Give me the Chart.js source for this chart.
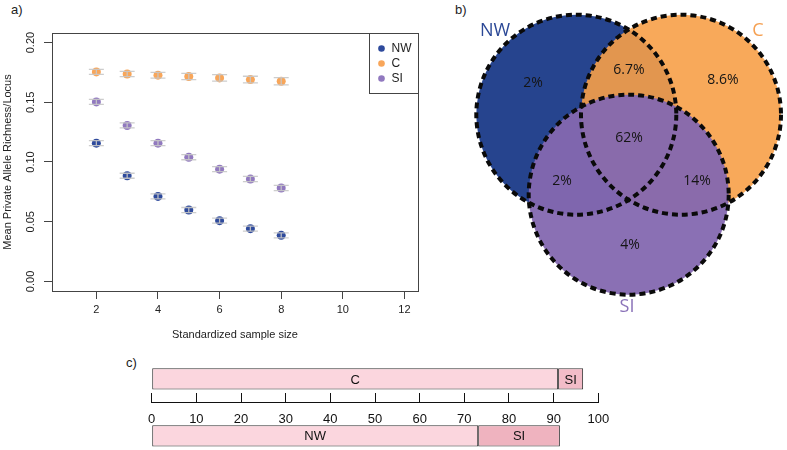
<!DOCTYPE html>
<html>
<head>
<meta charset="utf-8">
<script src="https://cdn.jsdelivr.net/npm/chart.js@4.4.1/dist/chart.umd.min.js"></script>
<style>
    body { margin: 0; width: 787px; height: 450px; background: #fff; position: relative; overflow: hidden; font-family: 'Liberation Sans', Arial, sans-serif; }
    .panel { position: absolute; }
    .tag { position: absolute; font-size: 13px; color: #222; }
</style>
</head>
<body>
<div class="tag" style="left:11px;top:2px">a)</div>
<div class="tag" style="left:455px;top:2px">b)</div>
<div class="tag" style="left:126px;top:355px">c)</div>
<div class="panel" style="left:0;top:0"><canvas id="richness" width="430" height="345"></canvas></div>
<div class="panel" style="left:440px;top:0"><canvas id="venn" width="347" height="330"></canvas></div>
<div class="panel" style="left:100px;top:340px"><canvas id="shares" width="550" height="110"></canvas></div>

<script>
// a) private allele richness by standardized sample size
const sampleSizes = [2, 3, 4, 5, 6, 7, 8];
const richNW = [0.1158, 0.0885, 0.0712, 0.0598, 0.0509, 0.0442, 0.0386];
const richC = [0.1754, 0.1737, 0.1727, 0.1716, 0.1704, 0.1690, 0.1676];
const richSI = [0.1503, 0.1306, 0.1158, 0.1040, 0.0940, 0.0857, 0.0782];
const errNW = [0.0021, 0.0021, 0.0021, 0.0021, 0.0021, 0.0021, 0.0021];
const errC = [0.0021, 0.0022, 0.0024, 0.0026, 0.0027, 0.0028, 0.0030];
const errSI = [0.0021, 0.0021, 0.0021, 0.0021, 0.0021, 0.0022, 0.0022];
const xTicks = [2, 4, 6, 8, 10, 12];
const yTicks = [0, 0.05, 0.10, 0.15, 0.20];

// b) shared private alleles
const vennSets = ['NW', 'C', 'SI'];
const vennShares = ['2%', '6.7%', '8.6%', '62%', '2%', '14%', '4%'];

// c) composition bars
const shareRows = ['C / SI', '', 'NW / SI'];
const firstPart = [91.0, null, 73.1];
const secondPart = [5.6, null, 18.3];
const firstNames = ['C', '', 'NW'];
const secondNames = ['SI', '', 'SI'];
const shareTicks = [0, 10, 20, 30, 40, 50, 60, 70, 80, 90, 100];

const blue = '#2e4a9c', orange = '#f8a65a', purple = '#9179bf';

function toPoints(vals) {
    return sampleSizes.map((x, i) => ({ x: x, y: vals[i] }));
}

// caixa + barras de erro + legenda do painel a
const richnessExtras = {
    id: 'richnessExtras',
    afterDatasetsDraw(chart) {
        const ctx = chart.ctx;
        const xs = chart.scales.x, ys = chart.scales.y;
        ctx.save();
        ctx.strokeStyle = 'rgba(200,200,200,0.9)';
        ctx.lineWidth = 1.3;
        chart.data.datasets.forEach(ds => {
            ds.data.forEach((p, i) => {
                const px = xs.getPixelForValue(p.x);
                const lo = ys.getPixelForValue(p.y - ds.errors[i]);
                const hi = ys.getPixelForValue(p.y + ds.errors[i]);
                ctx.beginPath();
                ctx.moveTo(px, lo); ctx.lineTo(px, hi);
                ctx.moveTo(px - 7.5, lo); ctx.lineTo(px + 7.5, lo);
                ctx.moveTo(px - 7.5, hi); ctx.lineTo(px + 7.5, hi);
                ctx.stroke();
            });
        });
        ctx.restore();
    },
    afterDraw(chart) {
        const ctx = chart.ctx;
        const a = chart.chartArea;
        ctx.save();
        ctx.strokeStyle = '#444';
        ctx.lineWidth = 1;
        ctx.strokeRect(Math.round(a.left) + 0.5, Math.round(a.top) + 0.5, Math.round(a.right - a.left), Math.round(a.bottom - a.top));
        // legend
        const w = 49, h = 60;
        const lx = Math.round(a.right - w) + 0.5, ly = Math.round(a.top) + 0.5;
        ctx.strokeRect(lx, ly, w, h);
        ctx.font = '12px "Liberation Sans", Arial, sans-serif';
        ctx.textBaseline = 'middle';
        chart.data.datasets.forEach((ds, i) => {
            const y = ly + 15 + i * 15;
            ctx.fillStyle = ds.backgroundColor;
            ctx.beginPath();
            ctx.arc(lx + 12, y, 3.3, 0, Math.PI * 2);
            ctx.fill();
            ctx.fillStyle = '#222';
            ctx.fillText(ds.label, lx + 22, y + 0.5);
        });
        ctx.restore();
    }
};

new Chart(document.getElementById('richness'), {
    type: 'scatter',
    data: {
        datasets: [
            { label: 'NW', data: toPoints(richNW), errors: errNW, backgroundColor: blue },
            { label: 'C', data: toPoints(richC), errors: errC, backgroundColor: orange },
            { label: 'SI', data: toPoints(richSI), errors: errSI, backgroundColor: purple }
        ]
    },
    options: {
        responsive: false,
        animation: false,
        events: [],
        layout: { padding: { left: 0, right: 12, top: 33, bottom: 0 } },
        elements: { point: { radius: 4.5, borderWidth: 0 } },
        plugins: { legend: { display: false }, tooltip: { enabled: false } },
        scales: {
            x: {
                type: 'linear', min: 0.56, max: 12.44,
                afterBuildTicks: s => { s.ticks = xTicks.map(v => ({ value: v })); },
                afterFit: s => { s.height = 54; },
                grid: { drawOnChartArea: false, tickLength: 8, color: '#444' },
                border: { display: false },
                ticks: { color: '#222', font: { size: 11, family: '"Liberation Sans", Arial' }, padding: 4, maxRotation: 0 },
                title: { display: true, text: 'Standardized sample size', color: '#222', font: { size: 11, family: '"Liberation Sans", Arial' }, padding: { top: 3, bottom: 3 } }
            },
            y: {
                type: 'linear', min: -0.008, max: 0.208,
                afterBuildTicks: s => { s.ticks = yTicks.map(v => ({ value: v })); },
                afterFit: s => { s.width = 52; },
                grid: { drawOnChartArea: false, tickLength: 8, color: '#444' },
                border: { display: false },
                ticks: {
                    color: '#222', font: { size: 11, family: '"Liberation Sans", Arial' },
                    minRotation: 90, maxRotation: 90, crossAlign: 'center', padding: 2,
                    callback: v => Number(v).toFixed(2)
                },
                title: { display: true, text: 'Mean Private Allele Richness/Locus', color: '#222', font: { size: 11, family: '"Liberation Sans", Arial' }, padding: { top: 1, bottom: 1 } }
            }
        }
    },
    plugins: [richnessExtras]
});

// b) Venn: three bubbles, outlines drawn dashed on top of fills
const vennCenters = [{ x: -0.372, y: 0.503 }, { x: 0.675, y: 0.503 }, { x: 0.152, y: -0.297 }];
const vennNamePos = [{ x: -1.185, y: 1.34 }, { x: 1.445, y: 1.34 }, { x: 0.135, y: -1.42 }];
const vennSharePos = [
    { x: -0.805, y: 0.82 }, { x: 0.155, y: 0.95 }, { x: 1.095, y: 0.85 }, { x: 0.155, y: 0.27 },
    { x: -0.515, y: -0.16 }, { x: 0.835, y: -0.16 }, { x: 0.165, y: -0.80 }
];
const vennTextColors = ['#2b4896', '#f5a052', '#8a72b8'];

const vennExtras = {
    id: 'vennExtras',
    beforeDatasetDraw(chart, args) {
        if (args.index === 0) {
            chart.ctx.save();
            chart.ctx.setLineDash([6, 4]);
        }
    },
    afterDatasetDraw(chart, args) {
        if (args.index === 0) chart.ctx.restore();
    },
    afterDatasetsDraw(chart) {
        const ctx = chart.ctx;
        const xs = chart.scales.x, ys = chart.scales.y;
        ctx.save();
        ctx.textAlign = 'center';
        ctx.textBaseline = 'middle';
        ctx.font = '18px "Open Sans", sans-serif';
        vennSets.forEach((name, i) => {
            ctx.fillStyle = vennTextColors[i];
            ctx.fillText(name, xs.getPixelForValue(vennNamePos[i].x), ys.getPixelForValue(vennNamePos[i].y));
        });
        ctx.font = '14px "Open Sans", sans-serif';
        ctx.fillStyle = '#151515';
        vennShares.forEach((t, i) => {
            ctx.fillText(t, xs.getPixelForValue(vennSharePos[i].x), ys.getPixelForValue(vennSharePos[i].y));
        });
        ctx.restore();
    }
};

const circles = vennCenters.map(c => ({ x: c.x, y: c.y, r: 100 }));

new Chart(document.getElementById('venn'), {
    type: 'bubble',
    data: {
        datasets: [
            { data: circles, backgroundColor: 'rgba(0,0,0,0)', borderColor: '#0a0a0a', borderWidth: 4, clip: false },
            { data: circles, backgroundColor: ['rgb(38,68,142)', 'rgba(247,160,72,0.9)', 'rgba(132,104,176,0.95)'], borderWidth: 0, clip: false }
        ]
    },
    options: {
        responsive: false,
        animation: false,
        events: [],
        layout: { padding: 0, autoPadding: false },
        plugins: { legend: { display: false }, tooltip: { enabled: false } },
        scales: {
            x: { type: 'linear', min: -1.735, max: 1.735, display: false },
            y: { type: 'linear', min: -1.65, max: 1.65, display: false }
        }
    },
    plugins: [vennExtras]
});

// c) stacked bars with axis in the middle
const barLabels = {
    id: 'barLabels',
    afterDatasetsDraw(chart) {
        const ctx = chart.ctx;
        ctx.save();
        ctx.font = '13px "Liberation Sans", Arial, sans-serif';
        ctx.fillStyle = '#111';
        ctx.textAlign = 'center';
        ctx.textBaseline = 'middle';
        const names = [firstNames, secondNames];
        chart.data.datasets.forEach((ds, d) => {
            chart.getDatasetMeta(d).data.forEach((bar, i) => {
                if (!names[d][i]) return;
                const c = bar.getCenterPoint();
                ctx.fillText(names[d][i], c.x, c.y + 1);
            });
        });
        ctx.restore();
    }
};

new Chart(document.getElementById('shares'), {
    type: 'bar',
    data: {
        labels: shareRows,
        datasets: [
            { data: firstPart, backgroundColor: '#fbd6de', borderColor: '#333', borderWidth: 1, borderSkipped: false },
            { data: secondPart, backgroundColor: ['#f3bcc8', '#fff', '#efb3bf'], borderColor: '#333', borderWidth: 1, borderSkipped: false }
        ]
    },
    options: {
        indexAxis: 'y',
        responsive: false,
        animation: false,
        events: [],
        layout: { padding: { left: 51.7, right: 51.7, top: 24.75, bottom: 0 } },
        datasets: { bar: { categoryPercentage: 1, barPercentage: 0.75 } },
        plugins: { legend: { display: false }, tooltip: { enabled: false } },
        scales: {
            x: {
                type: 'linear', stacked: true, min: 0, max: 100,
                position: { y: 0.818 },
                afterBuildTicks: s => { s.ticks = shareTicks.map(v => ({ value: v })); },
                grid: { drawOnChartArea: false, tickLength: -10, color: '#111' },
                border: { color: '#111', width: 1 },
                ticks: { color: '#111', font: { size: 13, family: '"Liberation Sans", Arial' }, padding: 19, maxRotation: 0 }
            },
            y: { stacked: true, display: false }
        }
    },
    plugins: [barLabels]
});
</script>
</body>
</html>
